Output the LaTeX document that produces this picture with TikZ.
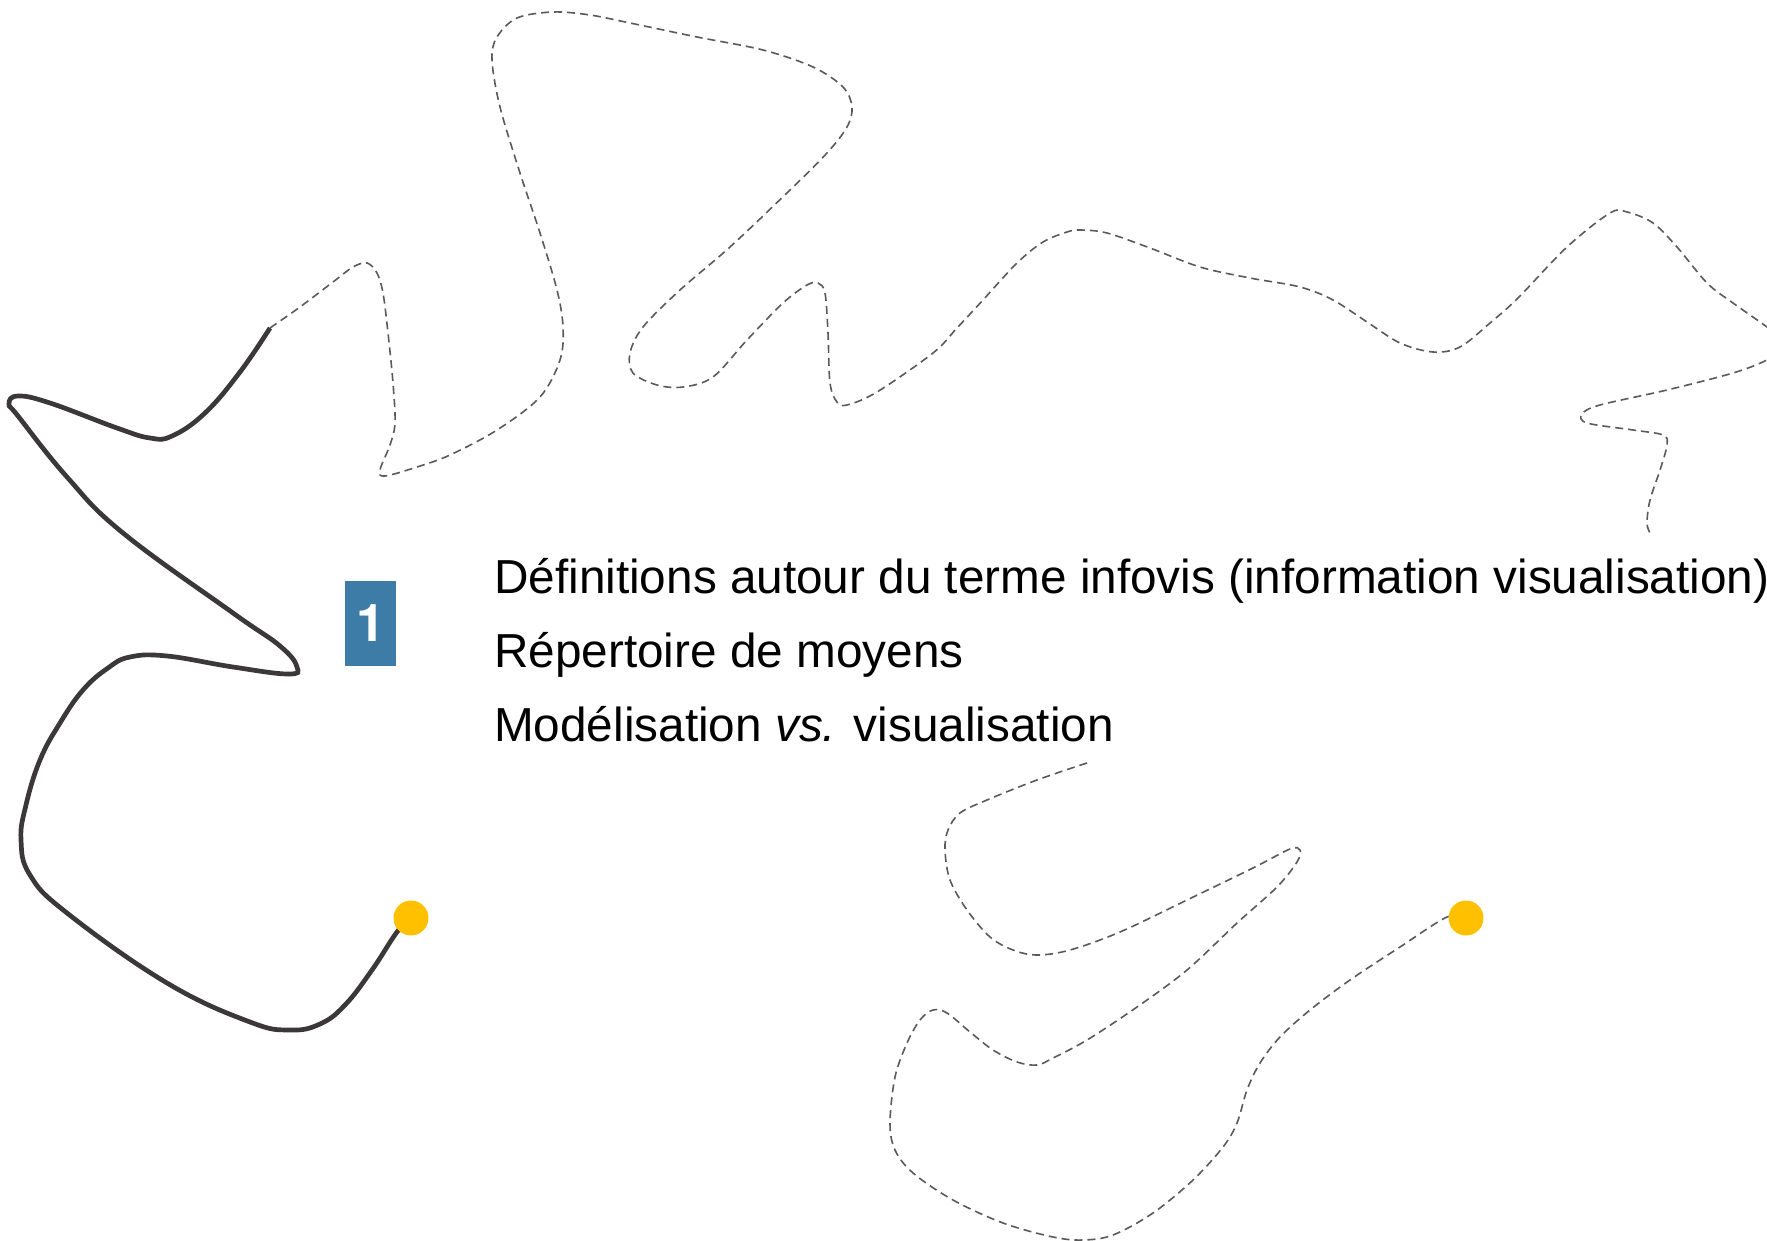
\documentclass[tikz,border=0pt]{standalone}
\usepackage{fontspec}
\setmainfont{Liberation Sans}
\newfontfamily\numfont{TeX Gyre Heros}
\usepackage{tikz}
\usetikzlibrary{positioning,backgrounds}
\usepackage{xcolor}
\definecolor{inkgray}{HTML}{3A3838}
\definecolor{dashgray}{HTML}{5A5A5A}
\definecolor{boxblue}{HTML}{3E7CA8}
\definecolor{pinyellow}{HTML}{FFC000}

\begin{document}
\begin{tikzpicture}[x=1pt, y=-1pt,
  solidline/.style={draw=inkgray, line width=4.7pt},
  dashline/.style={draw=dashgray, line width=1.6pt, dash pattern=on 8pt off 5pt},
  pin/.style={circle, fill=pinyellow, minimum size=35pt, inner sep=0pt},
  numbox/.style={fill=boxblue, text=white, minimum width=51pt, minimum height=85pt,
    inner sep=0pt, font=\numfont\bfseries\fontsize{52}{52}\selectfont},
  itemtext/.style={anchor=base west, inner sep=0pt, font=\fontsize{47.7}{56}\selectfont}]
\useasboundingbox (0,0) rectangle (1767,1241);
\clip (0,0) rectangle (1767,1241);

\coordinate (jn) at (270,328);
\node[pin] (dotA) at (411,918) {};
\node[pin] (dotB) at (1466,918) {};
\node[numbox] (num) at (370.5,623.5) {1};
\node[itemtext] (l1) at (494,593) {Définitions autour du terme infovis (information visualisation)};
\node[itemtext] (l2) at ([yshift=-74pt]l1.base west) {Répertoire de moyens};
\node[itemtext] (l3) at ([yshift=-74pt]l2.base west) {Modélisation {\itshape vs.} visualisation};

\begin{scope}[on background layer]
\fill[white] (0,0) rectangle (1767,1241);
% solid trail
\draw[solidline] plot[smooth, tension=0.7] coordinates {(jn) (240,372) (205,413) (172,436)
  (150,438) (117,428) (50,403) (18,396) (9,404) (18,416) (67,477) (123,533) (233,613)
  (280,646) (297,667) (288,674) (233,667) (167,656) (130,657) (108,668) (83,690) (60,723)
  (40,760) (26,805) (21,840) (30,875) (67,913) (167,983) (250,1022) (290,1030) (320,1024)
  (345,1005) (372,970) (397,932) (dotA)};
% dashed trail, upper part
\draw[dashline] plot[smooth, tension=0.55] coordinates {(jn) (300,307) (333,282) (353,267)
  (367,263) (377,273) (383,293) (388,333) (393,383) (395,423) (390,445) (380,470) (385,476)
  (417,467) (450,455) (497,430) (540,397) (560,360) (563,327) (557,290) (540,233) (520,173)
  (500,107) (492,60) (497,37) (517,18) (553,12) (590,15) (630,23) (697,37) (763,50) (813,67)
  (843,87) (852,107) (847,127) (827,153) (790,190) (730,247) (680,290) (643,327) (630,353)
  (633,373) (657,385) (683,387) (713,377) (747,340) (783,303) (807,285) (818,283) (825,293)
  (828,333) (830,383) (837,402) (847,405) (877,392) (933,353) (957,328) (983,300) (1017,263)
  (1043,242) (1067,232) (1080,230) (1107,233) (1150,248) (1200,267) (1250,278) (1300,287)
  (1333,300) (1367,322) (1400,343) (1433,352) (1460,347) (1490,323) (1518,298) (1567,247)
  (1610,213) (1627,212) (1653,223) (1677,247) (1707,283) (1733,303) (1767,327) (1790,345)
  (1767,360) (1733,373) (1667,390) (1600,405) (1582,414) (1587,423) (1633,430) (1663,435)
  (1667,445) (1660,470) (1650,500) (1647,523) (1650,533)};
% dashed trail, lower part
\draw[dashline] plot[smooth, tension=0.55] coordinates {(1087,763) (1037,780) (987,800)
  (960,813) (948,830) (945,850) (950,880) (967,910) (990,937) (1013,950) (1037,955)
  (1070,950) (1120,932) (1187,900) (1253,868) (1290,849) (1300,850) (1297,862) (1277,887)
  (1237,923) (1187,970) (1137,1007) (1087,1040) (1053,1058) (1037,1065) (1017,1062)
  (993,1050) (970,1032) (947,1013) (933,1010) (920,1020) (907,1043) (895,1077) (890,1123)
  (895,1150) (913,1173) (953,1200) (1003,1223) (1053,1237) (1083,1240) (1113,1235)
  (1153,1213) (1193,1180) (1223,1147) (1237,1123) (1247,1090) (1260,1063) (1280,1037)
  (1310,1010) (1350,980) (1400,947) (1447,917) (dotB)};
\end{scope}
\end{tikzpicture}
\end{document}
